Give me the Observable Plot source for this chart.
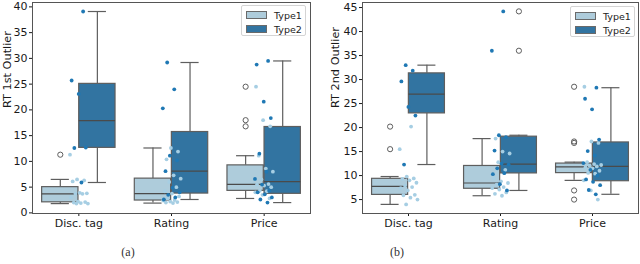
<!DOCTYPE html>
<html><head><meta charset="utf-8">
<script src="https://cdn.jsdelivr.net/npm/d3@7"></script>
<script src="https://cdn.jsdelivr.net/npm/@observablehq/plot@0.6"></script>
<style>
body{margin:0;background:#fff;}
#root{position:relative;width:640px;height:264px;overflow:hidden;font-family:"DejaVu Sans",sans-serif;background:#fff;}
.panel{position:absolute;top:0;}
.legend{position:absolute;box-sizing:border-box;border:1px solid #d4d4d4;border-radius:2px;background:rgba(255,255,255,0.85);font-size:9.5px;color:#222;}
.legend .row{position:absolute;left:4px;height:10px;display:flex;align-items:center;}
.legend .sw{width:19px;height:6px;border:1px solid #6a6a6a;margin-right:7px;}
.cap{position:absolute;font-family:"Liberation Serif",serif;font-size:12px;color:#333;transform:translate(-50%,-50%);}
</style></head><body><div id="root"></div>
<script>
const categories = ["Disc. tag", "Rating", "Price"];
const types = ["Type1", "Type2"];
const yTicksA = [0, 5, 10, 15, 20, 25, 30, 35, 40];
const yTicksB = [5, 10, 15, 20, 25, 30, 35, 40, 45];
const labelA = "RT 1st Outlier";
const labelB = "RT 2nd Outlier";

// RT 1st Outlier, per category [Disc. tag, Rating, Price]
const rt1Type1 = [
  [1.8, 1.8, 1.9, 2.0, 2.1, 2.2, 3.0, 3.7, 3.7, 3.8, 3.9, 6.1, 6.3, 6.5, 11.3],
  [1.9, 2.0, 2.1, 2.2, 2.4, 2.5, 2.8, 3.2, 3.75, 4.2, 5.0, 6.0, 6.65, 7.3, 10.4, 11.9, 12.6],
  [2.8, 3.5, 4.0, 4.2, 4.3, 5.0, 5.3, 5.5, 5.6, 6.5, 8.0, 8.6, 11.1, 16.8, 18.0, 24.5]
];
const rt1Type2 = [
  [5.9, 12.6, 12.7, 23.1, 25.7, 39.1],
  [2.6, 3.0, 3.5, 4.0, 4.9, 8.1, 10.2, 11.1, 20.3, 24.0, 29.2],
  [2.0, 2.6, 3.0, 3.6, 4.0, 4.3, 5.5, 6.6, 8.0, 11.5, 18.4, 21.6, 28.8, 29.5]
];
// RT 2nd Outlier
const rt2Type1 = [
  [4.0, 5.0, 5.4, 5.9, 6.0, 6.9, 7.4, 7.6, 7.9, 8.5, 9.0, 9.3, 9.4, 9.8, 15.5, 20.2],
  [5.8, 6.2, 6.5, 7.1, 7.4, 7.6, 8.1, 8.45, 8.8, 9.5, 11.2, 12.8, 14.6, 15.0, 17.7],
  [5.0, 6.9, 9.0, 10.4, 10.55, 11.0, 11.5, 11.7, 11.9, 12.0, 12.2, 12.4, 12.8, 16.8, 17.1, 28.5]
];
const rt2Type2 = [
  [12.3, 22.5, 24.3, 29.6, 31.85, 33.0],
  [6.9, 8.2, 10.3, 10.5, 11.5, 12.3, 12.5, 15.2, 18.0, 18.4, 36.0, 44.2],
  [6.1, 7.0, 8.0, 8.7, 9.2, 10.0, 11.2, 12.6, 14.2, 15.1, 17.5, 23.8, 26.0, 28.3]
];

const boxFill = {Type1: "#aeccdb", Type2: "#3274a1"};
const dotFill = {Type1: "#a6cee3", Type2: "#1f78b4"};
const gray = "#5e5e5e";

function build(t1, t2) {
  const boxes = [], outliers = [], points = [];
  categories.forEach((c, i) => {
    [t1[i], t2[i]].forEach((vals, h) => {
      const s = vals.slice().sort(d3.ascending);
      const q1 = d3.quantileSorted(s, 0.25), med = d3.quantileSorted(s, 0.5), q3 = d3.quantileSorted(s, 0.75);
      const iqr = q3 - q1;
      const lo = d3.min(s.filter(v => v >= q1 - 1.5 * iqr));
      const hi = d3.max(s.filter(v => v <= q3 + 1.5 * iqr));
      const cx = i + (h ? 0.2 : -0.2), hw = 0.196;
      boxes.push({type: types[h], cx, x1: cx - hw, x2: cx + hw, c1: cx - hw / 2, c2: cx + hw / 2, q1, med, q3, lo, hi});
      s.filter(v => v < lo || v > hi).forEach(v => outliers.push({x: cx, y: v}));
    });
    let k = 0;
    [t1[i], t2[i]].forEach((vals, h) => vals.forEach(v => {
      const j = ((k++ * 0.6180339887 + 0.37 + i * 0.21) % 1 - 0.5) * 0.2;
      points.push({type: types[h], x: i + j, y: v});
    }));
  });
  return {boxes, outliers, points};
}

function panel(t1, t2, opts) {
  const {boxes, outliers, points} = build(t1, t2);
  const b1 = boxes.filter(d => d.type === "Type1"), b2 = boxes.filter(d => d.type === "Type2");
  return Plot.plot({
    width: 320, height: 235,
    marginLeft: opts.ml, marginRight: opts.mr, marginTop: 2, marginBottom: 22,
    style: {fontFamily: "DejaVu Sans, sans-serif", fontSize: "11px", color: "#1a1a1a", background: "white", overflow: "visible"},
    x: {domain: [-0.5, 2.5], ticks: [0, 1, 2], tickFormat: i => categories[i], tickSize: 3, tickPadding: 3, label: null},
    y: {domain: opts.domain, ticks: opts.ticks, tickSize: 3, tickPadding: 2, label: null},
    marks: [
      Plot.ruleX(boxes, {x: "cx", y1: "lo", y2: "q1", stroke: gray, strokeWidth: 1.2}),
      Plot.ruleX(boxes, {x: "cx", y1: "q3", y2: "hi", stroke: gray, strokeWidth: 1.2}),
      Plot.ruleY(boxes, {y: "lo", x1: "c1", x2: "c2", stroke: gray, strokeWidth: 1.2}),
      Plot.ruleY(boxes, {y: "hi", x1: "c1", x2: "c2", stroke: gray, strokeWidth: 1.2}),
      Plot.rect(b1, {x1: "x1", x2: "x2", y1: "q1", y2: "q3", fill: boxFill.Type1, stroke: gray, strokeWidth: 1.2}),
      Plot.rect(b2, {x1: "x1", x2: "x2", y1: "q1", y2: "q3", fill: boxFill.Type2, stroke: gray, strokeWidth: 1.2}),
      Plot.ruleY(boxes, {y: "med", x1: "x1", x2: "x2", stroke: "#4a4a4a", strokeWidth: 1.2}),
      Plot.dot(outliers, {x: "x", y: "y", r: 2.6, stroke: gray, strokeWidth: 1, fill: "none"}),
      Plot.dot(points.filter(d => d.type === "Type1"), {x: "x", y: "y", r: 1.9, fill: dotFill.Type1}),
      Plot.dot(points.filter(d => d.type === "Type2"), {x: "x", y: "y", r: 1.9, fill: dotFill.Type2}),
      Plot.frame({stroke: "#555", strokeWidth: 1}),
      Plot.text([opts.label], {frameAnchor: "left", dx: opts.ldx, rotate: -90, text: d => d, fontSize: 11.3, fill: "#1a1a1a"})
    ]
  });
}

const root = document.getElementById("root");
function place(el, left) { el.classList.add("panel"); el.style.left = left + "px"; root.appendChild(el); }
place(panel(rt1Type1, rt1Type2, {ml: 32, mr: 10, domain: [-0.12, 40.85], ticks: yTicksA, label: labelA, ldx: -25}), 0);
place(panel(rt2Type1, rt2Type2, {ml: 42, mr: 2, domain: [2.1, 46.05], ticks: yTicksB, label: labelB, ldx: -27}), 320);

function legend(left, top) {
  const lg = document.createElement("div");
  lg.className = "legend";
  Object.assign(lg.style, {left: left + "px", top: top + "px", width: "65px", height: "31px"});
  types.forEach((t, i) => {
    const row = document.createElement("div");
    row.className = "row";
    row.style.top = (i ? 18 : 4) + "px";
    const sw = document.createElement("div");
    sw.className = "sw"; sw.style.background = boxFill[t];
    const tx = document.createElement("span"); tx.textContent = t;
    row.appendChild(sw); row.appendChild(tx); lg.appendChild(row);
  });
  root.appendChild(lg);
}
legend(241, 5);
legend(570, 6);

[["(a)", 128, 252], ["(b)", 397, 252]].forEach(([t, x, y]) => {
  const c = document.createElement("div"); c.className = "cap"; c.textContent = t;
  c.style.left = x + "px"; c.style.top = y + "px"; root.appendChild(c);
});
</script></body></html>
